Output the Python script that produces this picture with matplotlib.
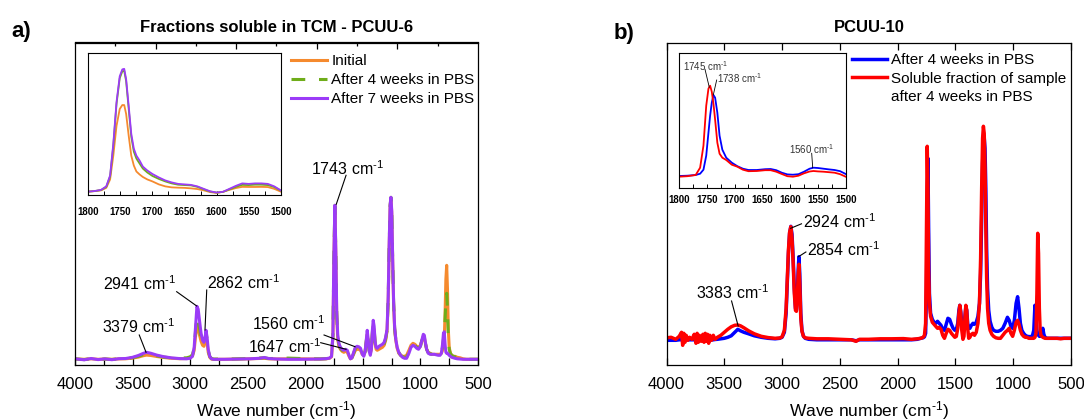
import matplotlib
matplotlib.use("Agg")
import matplotlib.pyplot as plt
from matplotlib.lines import Line2D
from matplotlib.ticker import FixedLocator, MultipleLocator

plt.rcParams['font.family'] = ['Liberation Sans', 'DejaVu Sans']
plt.rcParams['mathtext.fontset'] = 'custom'
plt.rcParams['mathtext.rm'] = 'Liberation Sans'
plt.rcParams['mathtext.it'] = 'Liberation Sans:italic'
plt.rcParams['mathtext.bf'] = 'Liberation Sans:bold'

# ---------------- Panel a: main spectra ----------------
wn_a = [4000, 3920, 3860, 3800, 3740, 3680, 3620, 3560, 3500, 3450,
        3410, 3379, 3340, 3290, 3230, 3160, 3090, 3030, 3000, 2980,
        2965, 2952, 2941, 2930, 2918, 2905, 2892, 2880, 2870, 2862,
        2853, 2843, 2830, 2815, 2795, 2760, 2700, 2600, 2480, 2400,
        2355, 2320, 2250, 2150, 2050, 1950, 1870, 1820, 1790, 1772,
        1760, 1752, 1743, 1735, 1727, 1718, 1708, 1695, 1680, 1665,
        1650, 1635, 1620, 1608, 1595, 1580, 1565, 1550, 1535, 1520,
        1505, 1492, 1480, 1470, 1462, 1454, 1445, 1435, 1426, 1418,
        1410, 1402, 1394, 1385, 1375, 1360, 1345, 1330, 1315, 1302,
        1290, 1280, 1271, 1263, 1256, 1249, 1241, 1233, 1224, 1214,
        1202, 1188, 1172, 1155, 1138, 1120, 1100, 1082, 1065, 1048,
        1032, 1016, 1000, 986, 975, 966, 957, 946, 932, 915,
        898, 880, 862, 845, 830, 818, 808, 800, 793, 786,
        779, 772, 765, 758, 750, 740, 728, 714, 700, 680,
        655, 630, 600, 570, 540, 510, 500]

initial = [0.3, 0.0, 0.5, 0.0, 0.2, 0.0, 0.4, 0.5, 1.2, 2.2,
           3.5, 4.2, 3.8, 2.8, 1.8, 1.0, 0.6, 0.8, 1.6, 3.2,
           9, 24, 32.5, 31, 24, 18, 14, 13, 18, 23,
           17, 7, 2, 0.2, 0, 0, 0, 0.2, 0.5, 0.8,
           1.0, 0.5, 0.3, 0.5, 0.5, 0.3, 0.3, 0.5, 1.0, 2.5,
           22, 95, 153, 105, 42, 20, 13, 10, 8, 7,
           8, 7, 3, 0.5, 1.5, 5, 9, 10, 10, 9,
           5, 4, 8, 17, 25, 18, 9, 6, 10, 24,
           33, 29, 16, 10, 9, 10, 11, 12, 14, 19,
           28, 58, 114, 153, 161, 146, 97, 55, 30, 19,
           11, 6, 4, 3, 3, 4, 9, 14, 16, 15,
           13, 12, 14, 19, 23, 22, 16, 10, 7, 6,
           5, 5, 5, 5, 5, 6, 9, 14, 22, 45,
           80, 94, 70, 30, 12, 6, 4, 3, 3, 2,
           1.5, 0.5, 0, 0, 0, 0, 0]

weeks4 = [0.4, -0.3, 0.6, -0.2, 0.3, -0.2, 0.5, 0.6, 1.6, 3.0,
          4.5, 5.5, 5.0, 3.5, 2.2, 1.4, 1.2, 1.5, 2.5, 4.5,
          11, 30, 43, 41, 31, 22, 16, 15, 20, 27,
          20, 9, 3, 0.8, 0.2, 0.2, 0.2, 0.4, 0.8, 1.2,
          1.5, 0.8, 0.8, 1.2, 0.8, 0.5, 0.4, 0.6, 1.2, 3.0,
          24, 98, 154, 108, 46, 22, 15, 11, 9, 8,
          9, 8, 3.5, 0.5, 1.5, 6, 11, 12, 11.5, 10,
          5, 3.5, 8, 19, 27, 19, 8.5, 5, 10, 26,
          36, 31, 17, 11, 10, 12, 13, 14, 15.5, 20.5,
          29, 60, 116, 154, 162, 147, 99, 57, 31, 20,
          12, 7, 4, 2.5, 2, 2, 7, 13, 15, 14,
          12, 11, 13, 20, 24, 23, 16, 10, 6.5, 5.5,
          5, 5, 5, 4.5, 4.5, 6, 12, 20, 26, 40,
          58, 66, 50, 22, 10, 6, 4, 3, 2.5, 1.5,
          1, 0.3, 0, 0, 0, 0, 0]

weeks7 = [0.5, -0.5, 0.8, -0.3, 0.4, -0.4, 0.6, 0.8, 2.0, 3.8,
          5.8, 7.0, 6.0, 4.2, 2.6, 1.4, 0.7, 0.5, 1.0, 3.0,
          12, 35, 53, 50, 38, 26, 19, 17, 22, 29,
          22, 10, 3, 0.5, 0, 0, 0, 0.2, 0.5, 1.0,
          1.8, 0.8, 0.3, 0.0, 0.0, 0.2, 0.3, 0.6, 1.2, 3.0,
          25, 100, 154, 110, 48, 24, 16, 12, 10, 9,
          10, 9, 4, 0.5, 1.5, 7, 12, 13, 12.5, 11,
          5, 3, 8, 20, 29, 20, 8, 4, 10, 28,
          39, 33, 18, 12, 11, 13, 14, 15, 17, 22,
          30, 62, 118, 155, 162, 148, 100, 58, 32, 20,
          12, 7, 4, 2, 1, 1, 6, 12, 14, 13,
          11, 10, 13, 20, 25, 24, 17, 10, 6, 5,
          5, 5, 4.5, 4, 4, 6, 15, 26, 27.5, 15,
          7, 6, 6, 5, 4, 3, 2, 1.5, 1, 0.5,
          0.3, 0, 0, 0, 0, 0, 0]

# ---------------- Panel a: inset ----------------
wn_ia = [1800, 1790, 1780, 1772, 1766, 1761, 1756, 1751, 1747, 1744,
         1741, 1737, 1733, 1729, 1725, 1720, 1715, 1708, 1700, 1690,
         1680, 1670, 1660, 1650, 1640, 1630, 1620, 1610, 1600, 1590,
         1580, 1570, 1560, 1550, 1540, 1530, 1520, 1510, 1500]
ins_initial = [1.7, 2.2, 3, 5.5, 14, 38, 68, 85, 89, 89,
               80, 58, 38, 28, 22, 19, 16.5, 14, 12, 9,
               7, 6, 5.7, 5.5, 5, 4.3, 3, 1.2, 0.4, 1.5,
               3.5, 5.3, 6.5, 6.4, 6.4, 6.5, 6.3, 4.5, 1.7]
ins_weeks4 = [1.7, 2.3, 3.3, 6.5, 17, 48, 90, 116, 123, 123.5,
              113, 85, 57, 42, 35, 30, 25, 21, 17.5, 14.5,
              12, 10, 8.7, 8.3, 8, 6.5, 4, 1.8, 0.7, 1.4,
              4, 6.5, 8.5, 8.3, 8.7, 8.7, 8.3, 6.3, 2.8]
ins_weeks7 = [1.7, 2.3, 3.5, 7, 18, 50, 92, 118, 125, 125.5,
              115, 88, 60, 45, 38, 33, 27, 23, 19.5, 16,
              13, 11, 9.5, 9, 8.5, 7, 4.5, 2, 0.8, 1.5,
              4.5, 7.5, 10, 9.5, 10, 10, 9.5, 7, 3]

# ---------------- Panel b: main spectra ----------------
wn_b = [4000, 3960, 3920, 3890, 3870, 3860, 3850, 3840, 3830, 3815,
        3800, 3780, 3760, 3745, 3735, 3725, 3715, 3700, 3685, 3675,
        3665, 3655, 3645, 3635, 3625, 3610, 3595, 3580, 3560, 3530,
        3500, 3470, 3440, 3410, 3383, 3360, 3330, 3290, 3240, 3180,
        3120, 3060, 3020, 3000, 2980, 2965, 2955, 2945, 2935, 2924,
        2914, 2904, 2894, 2884, 2876, 2868, 2861, 2854, 2847, 2838,
        2828, 2815, 2800, 2770, 2700, 2600, 2500, 2400, 2360, 2330,
        2250, 2150, 2050, 1950, 1880, 1830, 1800, 1780, 1768, 1758,
        1750, 1744, 1738, 1732, 1725, 1715, 1700, 1685, 1670, 1655,
        1640, 1625, 1610, 1595, 1580, 1565, 1550, 1535, 1520, 1505,
        1492, 1480, 1470, 1462, 1454, 1445, 1435, 1426, 1418, 1410,
        1402, 1394, 1385, 1375, 1362, 1348, 1335, 1320, 1305, 1292,
        1282, 1273, 1265, 1258, 1251, 1244, 1237, 1230, 1222, 1212,
        1200, 1185, 1170, 1150, 1130, 1110, 1090, 1070, 1050, 1035,
        1020, 1005, 990, 975, 962, 950, 938, 925, 910, 895,
        880, 865, 850, 835, 822, 812, 803, 795, 788, 781,
        774, 767, 760, 752, 744, 735, 725, 712, 700, 680,
        650, 620, 590, 560, 530, 500]

pbs4 = [-2, -2, -2, -1.5, -1.5, -1.5, -1.5, -1.5, -1.5, -1.5,
        -1.5, -1.5, -1.5, -1.5, -1.5, -1.5, -1.5, -1.5, -1.5, -1.5,
        -1.5, -1.5, -1.5, -1.5, -1.5, -1.5, -1.5, -1.2, -1, -0.5,
        0, 1, 2.5, 6, 9, 7.5, 6, 4.5, 2.5, 1,
        0, -0.5, 0, 1, 6, 25, 55, 85, 105, 112,
        104, 80, 50, 30, 28, 42, 68, 81.6, 65, 25,
        8, 2, 0, -1, -1.5, -1.5, -1.5, -1.5, -2.5, -1.5,
        -1.5, -1.5, -1.5, -1.5, -1.5, -1, 0, 0.5, 1.5, 5,
        50, 140, 180, 110, 45, 25, 19, 16, 15, 17,
        15, 13, 9, 8, 14, 20, 19, 14, 10, 8,
        9, 15, 28, 33, 27, 14, 8, 10, 22, 31,
        28, 15, 10, 10, 13, 15, 14, 16, 22, 35,
        65, 120, 175, 198, 201, 190, 150, 90, 50, 28,
        17, 11, 8, 7, 7, 8, 10, 15, 21, 18,
        12, 10, 18, 35, 41.6, 30, 15, 8, 5, 3,
        2, 1.7, 1.7, 2, 8, 33, 18, 8, 4, 3,
        2, 2, 3, 6, 10, 4, 1, 0, 0, 0,
        0, 0, 0, 0, 0, 0]

soluble = [0.5, 1, -1, 2, 6, -7, 5, -4, 3, -2,
           1, -1, 4, -5, 5, -4, 3, -3, 4, -4,
           5, -3, 4, -5, 3, -2, 3, -1, 1, 3,
           6, 9, 11.5, 13, 13.3, 12.5, 10.5, 7.5, 4.5, 2,
           0.7, 0, 0.3, 1.5, 8, 30, 60, 88, 106, 111.6,
           100, 75, 45, 28, 27, 40, 62, 74, 55, 20,
           7, 2, 0.5, 0, -0.5, -0.5, -1, -1.5, -3, -1,
           -1, -0.5, -0.5, -0.3, -1, -0.5, 0, 1, 3, 15,
           110, 192, 150, 70, 35, 22, 16, 14, 12, 10,
           11, 9, 3, 0, 5, 9, 8, 5, 3, 1,
           2, 10, 25, 33, 25, 8, -1, 2, 20, 33,
           28, 10, 0, 1, 4, 5, 3, 6, 15, 35,
           80, 150, 200, 212, 205, 170, 110, 60, 30, 15,
           8, 4, 2, 0.5, 0, 0, 3, 6, 8, 10,
           5, 2, 8, 16, 18, 14, 8, 4, 2, 1,
           1, 0, 0, 0, 0, 1, 5, 45, 105, 85,
           30, 8, 3, 2, 1, 0.5, 0, 0, 0, 0,
           0, 0, -0.5, 0, 0, 0]

# ---------------- Panel b: inset ----------------
wn_ib = [1800, 1785, 1770, 1762, 1756, 1751, 1747, 1744, 1741, 1738,
         1735, 1731, 1727, 1722, 1715, 1705, 1695, 1685, 1675, 1660,
         1645, 1635, 1625, 1615, 1605, 1595, 1585, 1575, 1565, 1558,
         1550, 1540, 1530, 1520, 1510, 1500]
ins_soluble = [11, 11.5, 12.7, 20, 42, 82, 99, 102, 96, 84,
               68, 45, 34, 30, 27.7, 23, 21, 18, 16.5, 16.7,
               17.5, 17.5, 16, 13.7, 11.5, 11, 12, 14.4, 16.2, 16.7,
               16.3, 16, 15.5, 15, 13.5, 11]
ins_pbs4 = [11.7, 12, 12.7, 14, 18, 32, 55, 72, 85, 92.7,
            90, 75, 52, 38, 30, 25, 21.5, 19, 17.7, 17.7,
            18.5, 18.7, 17.5, 15, 13.3, 13, 13.5, 16, 19, 20,
            19.7, 19, 18.3, 17.7, 16.5, 13.7]

xticks_main = [4000, 3500, 3000, 2500, 2000, 1500, 1000, 500]
xticks_inset = [1800, 1750, 1700, 1650, 1600, 1550, 1500]

C_OR = '#F58A2E'
C_GR = '#6FAD1A'
C_PU = '#9B3BF7'
C_BL = '#0000FF'
C_RD = '#FF0000'

HY = '\u2010'
CM = 'cm$^{' + HY + '1}$'

W, H = 1084, 420
fig = plt.figure(figsize=(W / 100, H / 100), dpi=100)


def box(x0, y0, x1, y1):
    return [x0 / W, 1 - y1 / H, (x1 - x0) / W, (y1 - y0) / H]


def style_main(ax):
    ax.set_xlim(4000, 500)
    ax.set_yticks([])
    ax.set_xticks(xticks_main)
    ax.set_xticklabels([str(t) for t in xticks_main])
    ax.tick_params(axis='x', direction='in', length=5, width=0.9,
                   labelsize=12, pad=8.5)
    for s in ax.spines.values():
        s.set_linewidth(0.9)
    ax.set_xlabel('Wave number (' + CM + ')', fontsize=12.5)
    ax.xaxis.set_label_coords(0.5, -0.141)
    ax.xaxis.label.set_va('center')


def style_inset(ax):
    ax.set_xlim(1800, 1500)
    ax.set_yticks([])
    ax.set_xticks(xticks_inset)
    ax.set_xticklabels([str(t) for t in xticks_inset], fontweight='bold')
    ax.xaxis.set_minor_locator(MultipleLocator(25))
    ax.tick_params(axis='x', which='both', direction='in', length=3,
                   width=0.7, labelsize=7, pad=9)
    for s in ax.spines.values():
        s.set_linewidth(0.8)


# ---- Panel a ----
axa = fig.add_axes(box(75, 42.5, 478, 365))
axa.plot(wn_a, initial, color=C_OR, lw=2.2, label='Initial')
axa.plot(wn_a, weeks4, color=C_GR, lw=2.2, ls=(0, (4.5, 4.5)),
         label='After 4 weeks in PBS')
axa.plot(wn_a, weeks7, color=C_PU, lw=2.2, label='After 7 weeks in PBS')
axa.set_ylim(-5.7, 316.8)
style_main(axa)
axa.xaxis.set_minor_locator(MultipleLocator(250))
axa.tick_params(axis='x', which='minor', direction='in', length=5, width=0.9)
sec = axa.secondary_xaxis('top')
sec.set_xticks([3300, 2600, 1900, 1200])
sec.xaxis.set_minor_locator(FixedLocator([3650, 2950, 2250, 1550, 850]))
sec.tick_params(axis='x', which='major', direction='in', length=5,
                width=0.9, labeltop=False)
sec.tick_params(axis='x', which='minor', direction='in', length=3,
                width=0.9)
sec.spines['top'].set_linewidth(0.9)

axa.legend(loc='upper left', bbox_to_anchor=(290.7 / W, 1 - 54 / H),
           bbox_transform=fig.transFigure, frameon=False,
           borderpad=0, borderaxespad=0, handlelength=2.4,
           handletextpad=0.25, labelspacing=0.33, fontsize=11)

ann_a = [("1743 " + CM, 1953, 191, (1646, 184), (1731, 155)),
         ("2941 " + CM, 3754, 76, (3117, 67.6), (2943, 53.3)),
         ("2862 " + CM, 2856, 76.3, (2856, 69.3), (2871, 29.3)),
         ("3379 " + CM, 3763, 32.6, (3442, 24.3), (3383, 7)),
         ("1560 " + CM, 2465, 35.3, (1837, 24.3), (1568, 12.6)),
         ("1647 " + CM, 2497, 12.3, (1866, 16.6), (1646, 10))]
for txt, tx, ty, p0, p1 in ann_a:
    axa.text(tx, ty, txt, fontsize=11.5, ha='left', va='center')
    axa.plot([p0[0], p1[0]], [p0[1], p1[1]], color='black', lw=0.8)

ia = fig.add_axes(box(88.3, 53.3, 280.7, 194.5))
ia.plot(wn_ia, ins_initial, color=C_OR, lw=1.3)
ia.plot(wn_ia, ins_weeks4, color=C_GR, lw=1.3)
ia.plot(wn_ia, ins_weeks7, color=C_PU, lw=1.3)
ia.set_ylim(-1.2, 141.2)
style_inset(ia)

fig.text(277 / W, 1 - 27 / H, 'Fractions soluble in TCM - PCUU-6',
         fontsize=12, fontweight='bold', ha='center', va='center')
fig.text(21 / W, 1 - 31 / H, 'a)', fontsize=16, fontweight='bold',
         ha='center', va='center')

# ---- Panel b ----
axb = fig.add_axes(box(666.5, 42.5, 1071, 365))
axb.plot(wn_b, pbs4, color=C_BL, lw=2.5)
axb.plot(wn_b, soluble, color=C_RD, lw=2.5)
axb.set_ylim(-26.7, 295.8)
style_main(axb)
axb.tick_params(axis='x', top=True)

handles_b = [Line2D([], [], color=C_BL, lw=2.5),
             Line2D([], [], color=C_RD, lw=2.5),
             Line2D([], [], color='none', lw=2.5)]
labels_b = ['After 4 weeks in PBS', 'Soluble fraction of sample',
            'after 4 weeks in PBS']
axb.legend(handles_b, labels_b, loc='upper left',
           bbox_to_anchor=(852 / W, 1 - 53.5 / H),
           bbox_transform=fig.transFigure, frameon=False,
           borderpad=0, borderaxespad=0, handlelength=2.3,
           handletextpad=0.25, labelspacing=0.28, fontsize=11)

ann_b = [("2924 " + CM, 2818, 116.6, (2832, 114.5), (2926, 110)),
         ("2854 " + CM, 2788, 88.3, (2794, 86.3), (2858, 81.6)),
         ("3383 " + CM, 3748, 46, (3437, 37.3), (3380, 12.3))]
for txt, tx, ty, p0, p1 in ann_b:
    axb.text(tx, ty, txt, fontsize=11.5, ha='left', va='center')
    axb.plot([p0[0], p1[0]], [p0[1], p1[1]], color='black', lw=0.8)

ib = fig.add_axes(box(679, 53.3, 845.7, 187.7))
ib.plot(wn_ib, ins_pbs4, color=C_BL, lw=1.3)
ib.plot(wn_ib, ins_soluble, color=C_RD, lw=1.3)
ib.set_ylim(0, 134.4)
style_inset(ib)
ib.tick_params(axis='x', which='both', pad=5)
ann_ib = [("1745 " + CM, 1793.3, 121.7, (1753.2, 118.4), (1745.5, 100.4)),
          ("1738 " + CM, 1731.1, 110, (1732.2, 107.7), (1738.3, 92.7)),
          ("1560 " + CM, 1601.5, 38.4, (1561.2, 34.4), (1559.4, 20))]
for txt, tx, ty, p0, p1 in ann_ib:
    ib.text(tx, ty, txt, fontsize=7, ha='left', va='center', color='#333333')
    ib.plot([p0[0], p1[0]], [p0[1], p1[1]], color='black', lw=0.6)

fig.text(869 / W, 1 - 28 / H, 'PCUU-10', fontsize=12, fontweight='bold',
         ha='center', va='center')
fig.text(624 / W, 1 - 34 / H, 'b)', fontsize=16, fontweight='bold',
         ha='center', va='center')

fig.savefig('out.png', dpi=100)
